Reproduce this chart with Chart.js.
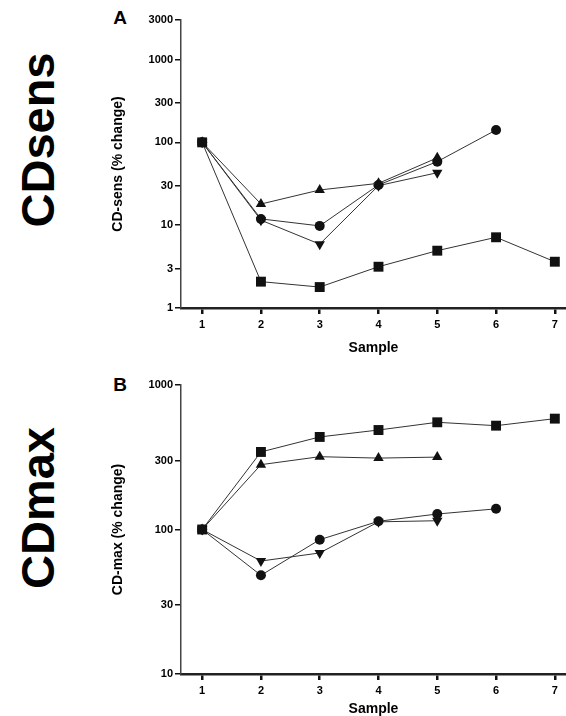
<!DOCTYPE html>
<html lang="en">
<head>
    <meta charset="UTF-8">
    <title>CDsens / CDmax</title>
    <script src="https://cdn.jsdelivr.net/npm/chart.js"></script>
    <style>
        body { margin: 0; background: #fff; font-family: "Liberation Sans", Arial, sans-serif; }
        #page { position: relative; width: 566px; height: 716px; overflow: hidden; }
        canvas { position: absolute; left: 0; }
        .bigLabel { position: absolute; font-weight: bold; font-size: 47px; color: #000;
                    transform: translate(-50%, -50%) rotate(-90deg); white-space: nowrap; line-height: 1; }
        .panel { position: absolute; font-weight: bold; font-size: 19px; color: #000;
                 transform: translate(-50%, -50%); line-height: 1; }
    </style>
</head>
<body>
<div id="page">
    <div class="bigLabel" style="left:37px; top:140px;">CDsens</div>
    <div class="bigLabel" style="left:37px; top:508px;">CDmax</div>
    <div class="panel" style="left:120px; top:17px;">A</div>
    <div class="panel" style="left:120px; top:384px;">B</div>
    <canvas id="sensChart" width="566" height="358" style="top:0;"></canvas>
    <canvas id="maxChart" width="566" height="358" style="top:358px;"></canvas>
</div>

<script>
    // sample numbers on the x axis
    const samples = [1, 2, 3, 4, 5, 6, 7];

    // panel A: CD-sens (% change)
    const sensSquare = [100, 2.08, 1.79, 3.15, 4.92, 7.14, 3.62];
    const sensTriUp = [100, 18, 26.6, 32, 65];
    const sensCircle = [100, 11.9, 9.8, 30.6, 58.5, 141];
    const sensTriDown = [100, 11.5, 5.9, 30, 43];
    const sensTicks = [1, 3, 10, 30, 100, 300, 1000, 3000];

    // panel B: CD-max (% change)
    const maxSquare = [100, 344, 437, 488, 552, 523, 585];
    const maxTriUp = [100, 281, 319, 312, 317];
    const maxCircle = [100, 48.2, 85, 114, 128, 139];
    const maxTriDown = [100, 60.5, 68.8, 113, 115];
    const maxTicks = [10, 30, 100, 300, 1000];

    function toPoints(values) {
        return values.map((v, i) => ({ x: samples[i], y: v }));
    }

    function series(values, style, radius, rotation) {
        return {
            data: toPoints(values),
            borderColor: '#333',
            borderWidth: 1,
            backgroundColor: '#111',
            pointBackgroundColor: '#111',
            pointBorderColor: '#111',
            pointBorderWidth: 0,
            pointStyle: style,
            pointRadius: radius,
            pointRotation: rotation || 0,
            tension: 0
        };
    }

    function makeChart(id, sets, yTicks, yTitle, padTop, xHeight, samplePad) {
        const ctx = document.getElementById(id).getContext('2d');
        return new Chart(ctx, {
            type: 'line',
            data: {
                datasets: [
                    series(sets[0], 'rect', 7),
                    series(sets[1], 'triangle', 6),
                    series(sets[2], 'circle', 5),
                    series(sets[3], 'triangle', 6, 180)
                ]
            },
            options: {
                responsive: false,
                animation: false,
                layout: { autoPadding: false, padding: { top: padTop, left: 105, right: 0, bottom: 0 } },
                plugins: { legend: { display: false }, tooltip: { enabled: false } },
                scales: {
                    x: {
                        type: 'linear',
                        min: 0.64,
                        max: 7.19,
                        afterBuildTicks: function (scale) {
                            scale.ticks = samples.map(v => ({ value: v }));
                        },
                        afterFit: function (scale) { scale.height = xHeight; },
                        grid: { drawOnChartArea: false, drawTicks: true, tickLength: 6, color: '#111', lineWidth: 2.5 },
                        border: { display: true, color: '#222', width: 2.5 },
                        ticks: {
                            color: '#000', padding: 4,
                            font: { family: 'Liberation Sans', size: 11, weight: 'bold' },
                            callback: v => String(v)
                        },
                        title: {
                            display: true, text: 'Sample', color: '#000',
                            padding: { top: 0, bottom: samplePad },
                            font: { family: 'Liberation Sans', size: 14, weight: 'bold' }
                        }
                    },
                    y: {
                        type: 'logarithmic',
                        min: yTicks[0],
                        max: yTicks[yTicks.length - 1],
                        afterBuildTicks: function (scale) {
                            scale.ticks = yTicks.map(v => ({ value: v }));
                        },
                        afterFit: function (scale) { scale.width = 76; },
                        grid: { drawOnChartArea: false, drawTicks: true, tickLength: 6, color: '#111', lineWidth: 1.5 },
                        border: { display: true, color: '#444', width: 1.5 },
                        ticks: {
                            color: '#000', padding: 2,
                            font: { family: 'Liberation Sans', size: 11, weight: 'bold' },
                            callback: v => String(v)
                        },
                        title: {
                            display: true, text: yTitle, color: '#000',
                            padding: { top: 5, bottom: 0 },
                            font: { family: 'Liberation Sans', size: 14, weight: 'bold' }
                        }
                    }
                }
            }
        });
    }

    makeChart('sensChart', [sensSquare, sensTriUp, sensCircle, sensTriDown], sensTicks,
        'CD-sens (% change)', 20, 50, 1);
    makeChart('maxChart', [maxSquare, maxTriUp, maxCircle, maxTriDown], maxTicks,
        'CD-max (% change)', 27, 42, -2);
</script>
</body>
</html>
